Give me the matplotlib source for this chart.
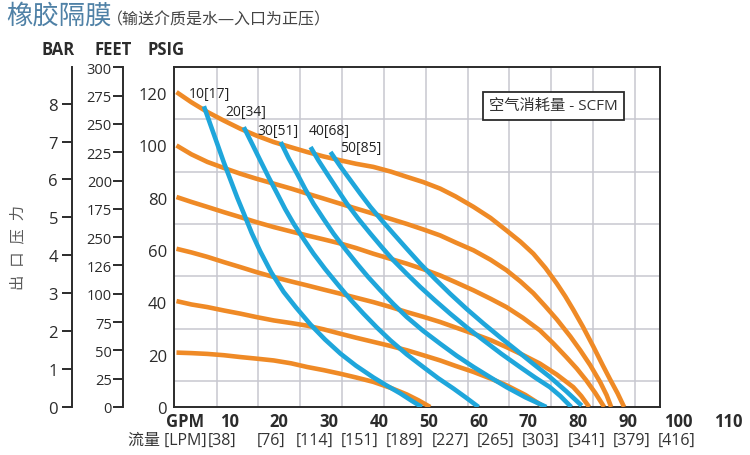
import numpy as np
import matplotlib.pyplot as plt

plt.rcParams['font.family'] = ['Open Sans', 'Noto Sans CJK SC', 'DejaVu Sans']

# outlet pressure curves (psig at the air inlet): gpm / psig
p120_gpm = [0, 3, 6.2, 9.5, 12.8, 16, 19.5, 23, 26.2, 29.5, 32.9, 36, 39.5, 43, 46.2, 49.5, 52.9, 56, 59.6, 63, 66.2, 69, 71.6, 74, 76.3, 78, 79.6, 81.5, 83.6, 85.5, 87, 88.5, 89.8]
p120_psi = [120.4, 116.5, 112.8, 109.5, 106.4, 103.8, 101.3, 99.3, 97.5, 95.8, 94.3, 93, 91.8, 90, 88, 86, 83.5, 80.5, 76.5, 72.3, 67.5, 63.2, 58.6, 53.2, 47.2, 42.3, 37.2, 30.8, 23.2, 16, 10.5, 5.2, 0]
p100_gpm = [0, 3, 6.2, 9.5, 12.8, 16, 19.5, 23, 26.2, 29.5, 32.9, 36, 39.5, 43, 46.2, 49.5, 52.9, 56, 59.6, 63, 66.2, 69, 71.6, 74, 76.3, 79, 81, 83, 85, 86.3, 87.2]
p100_psi = [100, 96.6, 93.7, 91.4, 89.2, 87.3, 85.4, 83.5, 81.6, 79.7, 77.7, 75.9, 73.9, 71.9, 70, 67.9, 65.6, 62.9, 59.9, 56.3, 52.3, 48, 43.5, 38.5, 33.5, 27, 21.7, 16, 9.5, 4.5, 0]
p80_gpm = [0, 3, 6.2, 9.5, 12.8, 16, 19.5, 23, 26.2, 29.5, 32.9, 36, 39.5, 43, 46.2, 49.5, 52.9, 56, 59.6, 63, 66.2, 69.5, 72.9, 75.5, 78.2, 80.3, 82.2, 84, 85.8]
p80_psi = [80.3, 78.4, 76.5, 74.5, 72.6, 70.7, 68.8, 67.1, 65.6, 64.1, 62.5, 60.8, 58.6, 56.6, 54.8, 52.7, 50.3, 47.7, 44.6, 41.4, 38.2, 34.1, 29.3, 24.5, 19.1, 14.7, 10.2, 5.4, 0]
p60_gpm = [0, 3, 6.2, 9.5, 12.8, 16, 19.5, 23, 26.2, 29.5, 32.9, 36, 39.5, 43, 46.2, 49.5, 52.9, 56, 59.6, 63, 66.2, 69.5, 72.9, 76.3, 79.6, 81.2, 82.8]
p60_psi = [60.5, 59.1, 57.4, 55.4, 53.5, 51.6, 49.7, 48, 46.5, 44.9, 43.3, 41.8, 40.1, 38.2, 36.3, 34.5, 32.5, 30.4, 28, 25.6, 22.9, 19.9, 16.6, 12.4, 7.6, 4.2, 0]
p40_gpm = [0, 3, 6.2, 9.5, 12.8, 16, 19.5, 23, 26.2, 29.5, 32.9, 36, 39.5, 43, 46.2, 49.5, 52.9, 56, 59.6, 63, 66.2, 70, 73.8]
p40_psi = [40.5, 39.2, 38.2, 36.9, 35.7, 34.4, 33.1, 32.1, 31.1, 29.7, 28, 26.5, 24.9, 23.3, 21.7, 19.8, 17.8, 15.7, 13.4, 10.9, 8.3, 4.6, 0]
p20_gpm = [0, 3, 6.2, 9.5, 12.8, 16, 19.5, 23, 26.2, 29.5, 32.9, 36, 39.5, 43, 46.2, 48.5, 50.9]
p20_psi = [20.8, 20.6, 20.3, 19.8, 19.1, 18.5, 17.8, 16.7, 15.3, 14.1, 12.7, 11.3, 9.6, 7.3, 4.8, 2.6, 0]

# air consumption curves (scfm)
a10_gpm = [5.5, 6.8, 8.2, 9.5, 10.8, 12.2, 13.5, 15.1, 16.8, 19, 21.5, 24, 26.9, 29.8, 32.9, 36, 39.5, 42, 44.9, 47, 49.2]
a10_psi = [115, 108, 100.5, 93.5, 87, 80, 74, 66.5, 59.5, 51.5, 44, 38, 31.5, 25.8, 20.4, 15.8, 11.3, 8.4, 5.2, 2.6, 0]
a20_gpm = [13.5, 15.2, 16.8, 18.5, 20.2, 21.8, 23.5, 25.5, 27.5, 29.8, 32.2, 34.8, 37.5, 40.2, 42.9, 46.2, 49.5, 52.5, 55.6, 58, 60.6]
a20_psi = [107, 100.5, 94.3, 87.8, 81.6, 75.7, 70.1, 64.2, 58.6, 52.8, 47.2, 41.3, 35.7, 30.4, 25.5, 20.1, 15.3, 11, 7, 3.7, 0]
a30_gpm = [20.9, 22.5, 24.2, 25.8, 27.5, 29.5, 31.5, 33.8, 36.2, 38.5, 40.9, 43.5, 46.2, 49.5, 52.9, 56.2, 59.6, 63, 66.2, 70, 74.2]
a30_psi = [101.3, 95.1, 89.2, 83.4, 77.7, 71.9, 66.3, 60.5, 54.8, 49.6, 44.6, 39.4, 34.4, 29.1, 24.2, 19.6, 15.3, 11.3, 7.6, 3.7, 0]
a40_gpm = [26.9, 28.5, 30.2, 32.2, 34.2, 36.5, 38.9, 41.2, 43.5, 46.2, 48.9, 51.9, 54.9, 58.2, 61.6, 65.2, 68.9, 72, 74.9, 77, 79.2]
a40_psi = [99.4, 94.2, 89.2, 83.4, 77.7, 71.9, 66.3, 61.1, 56.1, 50.9, 45.9, 40.7, 35.7, 30.5, 25.5, 20.3, 15.3, 11.2, 7.6, 4.2, 0]
a50_gpm = [30.9, 32.9, 34.9, 36.9, 38.9, 41.2, 43.5, 46.2, 48.9, 51.9, 54.9, 58.2, 61.6, 64.9, 68.2, 71.5, 74.9, 78.2, 81.3]
a50_psi = [97.5, 91.9, 86.7, 81.5, 76.5, 71.3, 66.3, 60.5, 54.8, 48.9, 43.3, 37.5, 31.9, 26.7, 21.7, 16.6, 11.5, 6, 0.5]
air_labels = ['10[17]', '20[34]', '30[51]', '40[68]', '50[85]']
air_label_gpm = [2.5, 9.8, 16.3, 26.5, 32.9]
air_label_psi = [120, 112.8, 105.8, 105.8, 99.4]

psig_ticks = [0, 20, 40, 60, 80, 100, 120]
bar_ticks = [0, 1, 2, 3, 4, 5, 6, 7, 8]
feet_ticks = [300, 275, 250, 225, 200, 175, 150, 125, 100, 75, 50, 25, 0]
feet_labels = ['300', '275', '250', '225', '200', '175', '250', '126', '100', '75', '50', '25', '0']
gpm_ticks = [10, 20, 30, 40, 50, 60, 70, 80, 90, 100, 110]
lpm_labels = ['[38]', '[76]', '[114]', '[151]', '[189]', '[227]', '[265]', '[303]', '[341]', '[379]', '[416]']
lpm_x_px = [222, 271, 315, 360, 405, 451, 496, 541, 587, 632, 677]

ORANGE = '#ef8a26'
BLUE = '#1fa6db'
DARK = '#2b2b2b'
W, H = 750, 456

fig = plt.figure(figsize=(7.5, 4.56), dpi=100)
ax = fig.add_axes([174 / W, 48 / H, 486 / W, 340 / H])
ax.set_xlim(-0.5, 97)
ax.set_ylim(0, 130)

for gx, gy in [(p120_gpm, p120_psi), (p100_gpm, p100_psi), (p80_gpm, p80_psi),
               (p60_gpm, p60_psi), (p40_gpm, p40_psi), (p20_gpm, p20_psi)]:
    ax.plot(gx, gy, color=ORANGE, lw=3.3, solid_capstyle='butt', solid_joinstyle='round', zorder=3)
for gx, gy in [(a10_gpm, a10_psi), (a20_gpm, a20_psi), (a30_gpm, a30_psi),
               (a40_gpm, a40_psi), (a50_gpm, a50_psi)]:
    ax.plot(gx, gy, color=BLUE, lw=3.3, solid_capstyle='butt', solid_joinstyle='round', zorder=4)

for lab, lx, ly in zip(air_labels, air_label_gpm, air_label_psi):
    ax.text(lx, ly, lab, fontsize=10, color='#222222', ha='left', va='center', zorder=5)

ax.text(75.6, 115.1, '空气消耗量 - SCFM', fontsize=11, color='#333333', ha='center', va='center',
        bbox=dict(boxstyle='square,pad=0.42', fc='white', ec=DARK, lw=1.3), zorder=6)

# grid
ax.set_xticks(np.arange(8.05, 97, 8.39), minor=True)
ax.set_yticks(np.arange(10, 130, 10), minor=True)
ax.grid(which='minor', color='#c8c8d0', lw=1.1, zorder=0)
ax.set_xticks([])
ax.set_yticks(psig_ticks)
ax.set_yticklabels([str(v) for v in psig_ticks], fontsize=12, color=DARK)
ax.tick_params(axis='y', which='both', length=0, pad=5)
ax.tick_params(axis='x', which='both', length=0)
for s in ax.spines.values():
    s.set_color(DARK)
    s.set_linewidth(1.4)

# bottom labels
trans = ax.get_xaxis_transform()
ax.text(1.8, -0.04, 'GPM', transform=trans, fontsize=12, fontweight='bold', color=DARK,
        ha='center', va='center', clip_on=False)
for g in gpm_ticks:
    ax.text(g + 0.6, -0.04, str(g), transform=trans, fontsize=12, fontweight='bold', color=DARK,
            ha='center', va='center', clip_on=False)
fig.text(207 / W, 1 - 441 / H, '流量 [LPM]', fontsize=11.5, color='#333333', ha='right', va='center')
for lab, px in zip(lpm_labels, lpm_x_px):
    fig.text(px / W, 1 - 441 / H, lab, fontsize=11.5, color='#333333', ha='center', va='center')

# BAR axis
ax_bar = fig.add_axes([72 / W, 48 / H, 0.0001, 340 / H])
ax_bar.set_ylim(0, 130 / 14.5)
ax_bar.set_xticks([])
ax_bar.set_yticks(bar_ticks)
ax_bar.set_yticklabels([str(v) for v in bar_ticks], fontsize=12, color=DARK)
ax_bar.tick_params(axis='y', length=7, width=1.4, color=DARK, pad=3)
for k in ['top', 'right', 'bottom']:
    ax_bar.spines[k].set_visible(False)
ax_bar.spines['left'].set_color(DARK)
ax_bar.spines['left'].set_linewidth(1.4)
ax_bar.patch.set_visible(False)

# FEET axis
ax_ft = fig.add_axes([123 / W, 48 / H, 0.0001, 340 / H])
ax_ft.set_ylim(0, 130 * 2.31)
ax_ft.set_xticks([])
ax_ft.set_yticks(feet_ticks)
ax_ft.set_yticklabels(feet_labels, fontsize=10.5, color=DARK)
ax_ft.tick_params(axis='y', length=7, width=1.4, color=DARK, pad=1)
for k in ['top', 'right', 'bottom']:
    ax_ft.spines[k].set_visible(False)
ax_ft.spines['left'].set_color(DARK)
ax_ft.spines['left'].set_linewidth(1.4)
ax_ft.patch.set_visible(False)

# headers
for txt, px in [('BAR', 58), ('FEET', 113), ('PSIG', 166)]:
    fig.text(px / W, 1 - 50 / H, txt, fontsize=12, fontweight='bold', color=DARK, ha='center', va='center')
fig.text(19 / W, 1 - 248 / H, '出  口  压  力', fontsize=11, color='#5a5a5a', rotation=90, ha='center', va='center')
fig.text(6 / W, 1 - 17 / H, '橡胶隔膜', fontsize=19, color='#4f81a6', ha='left', va='center')
fig.text(107 / W, 1 - 20 / H, '（输送介质是水—入口为正压）', fontsize=11.5, color='#444444', ha='left', va='center')

fig.savefig('out.png', dpi=100)
